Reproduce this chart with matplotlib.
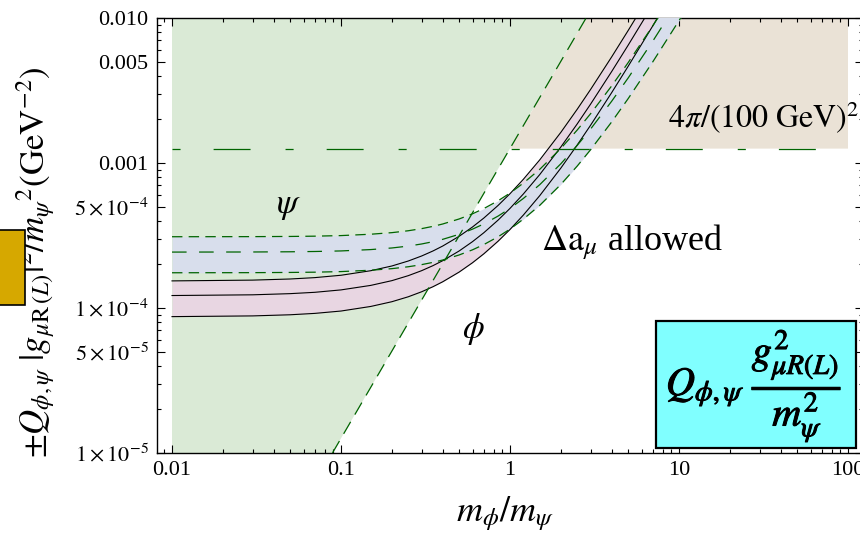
import matplotlib
matplotlib.use("Agg")
import matplotlib.pyplot as plt
import matplotlib.patheffects as pe
from matplotlib.patches import Rectangle
from matplotlib.ticker import FixedLocator, FixedFormatter, LogLocator, NullFormatter

plt.rcParams["font.family"] = ["Liberation Serif", "DejaVu Serif"]
plt.rcParams["mathtext.fontset"] = "stix"
plt.rcParams["lines.scale_dashes"] = False

# mass ratio m_phi / m_psi where the curves are sampled
ratio = [0.01, 0.03, 0.05, 0.07, 0.1, 0.15, 0.2, 0.25, 0.3, 0.35, 0.4, 0.5, 0.6,
         0.7, 0.85, 1.0, 1.2, 1.5, 2.0, 2.5, 3.0, 4.0, 5.0, 7.0, 10.0, 12.0]

# photon on the scalar (phi): solid band
phi_hi = [1.538e-4, 1.557e-4, 1.585e-4, 1.620e-4, 1.682e-4, 1.808e-4, 1.949e-4,
          2.109e-4, 2.284e-4, 2.473e-4, 2.676e-4, 3.122e-4, 3.620e-4, 4.171e-4,
          5.096e-4, 6.14e-4, 7.723e-4, 1.051e-3, 1.628e-3, 2.350e-3, 3.219e-3,
          5.403e-3, 8.191e-3, 1.559e-2, 3.130e-2, 4.479e-2]
phi_mid = [1.219e-4, 1.233e-4, 1.256e-4, 1.283e-4, 1.333e-4, 1.432e-4, 1.544e-4,
           1.671e-4, 1.809e-4, 1.959e-4, 2.120e-4, 2.473e-4, 2.868e-4, 3.304e-4,
           4.037e-4, 4.864e-4, 6.118e-4, 8.325e-4, 1.290e-3, 1.862e-3, 2.550e-3,
           4.281e-3, 6.489e-3, 1.235e-2, 2.480e-2, 3.548e-2]
phi_lo = [8.72e-5, 8.82e-5, 8.98e-5, 9.18e-5, 9.53e-5, 1.025e-4, 1.105e-4,
          1.195e-4, 1.294e-4, 1.402e-4, 1.517e-4, 1.769e-4, 2.052e-4, 2.364e-4,
          2.888e-4, 3.48e-4, 4.377e-4, 5.956e-4, 9.229e-4, 1.332e-3, 1.824e-3,
          3.063e-3, 4.642e-3, 8.836e-3, 1.774e-2, 2.538e-2]

# photon on the fermion (psi): dashed band
psi_hi = [3.101e-4, 3.106e-4, 3.115e-4, 3.129e-4, 3.158e-4, 3.227e-4, 3.309e-4,
          3.410e-4, 3.527e-4, 3.656e-4, 3.797e-4, 4.111e-4, 4.462e-4, 4.850e-4,
          5.490e-4, 6.20e-4, 7.270e-4, 9.045e-4, 1.261e-3, 1.689e-3, 2.189e-3,
          3.407e-3, 4.920e-3, 8.841e-3, 1.699e-2, 2.394e-2]
psi_mid = [2.430e-4, 2.434e-4, 2.442e-4, 2.453e-4, 2.475e-4, 2.529e-4, 2.594e-4,
           2.673e-4, 2.764e-4, 2.866e-4, 2.976e-4, 3.222e-4, 3.498e-4, 3.801e-4,
           4.304e-4, 4.86e-4, 5.698e-4, 7.090e-4, 9.883e-4, 1.324e-3, 1.716e-3,
           2.671e-3, 3.856e-3, 6.930e-3, 1.332e-2, 1.877e-2]
psi_lo = [1.750e-4, 1.753e-4, 1.759e-4, 1.766e-4, 1.783e-4, 1.822e-4, 1.868e-4,
          1.925e-4, 1.991e-4, 2.064e-4, 2.143e-4, 2.321e-4, 2.519e-4, 2.738e-4,
          3.099e-4, 3.50e-4, 4.104e-4, 5.106e-4, 7.117e-4, 9.533e-4, 1.236e-3,
          1.923e-3, 2.777e-3, 4.991e-3, 9.589e-3, 1.351e-2]

# perturbativity limit 4 pi / (100 GeV)^2 and the psi-region edge
pert_limit = 1.2566e-3
edge_x = [0.089, 1.0, 2.82]
edge_y = [1e-5, 1.2566e-3, 1e-2]

x_range = [0.01, 100.0]
y_range = [1e-5, 1e-2]

xtick_vals = [0.01, 0.1, 1, 10, 100]
xtick_labels = ["0.01", "0.1", "1", "10", "100"]
ytick_vals = [1e-5, 5e-5, 1e-4, 5e-4, 1e-3, 5e-3, 1e-2]
ytick_labels = [r"$1\times10^{-5}$", r"$5\times10^{-5}$", r"$1\times10^{-4}$",
                r"$5\times10^{-4}$", "0.001", "0.005", "0.010"]

W, H = 860, 537
green = "#daead6"
beige = "#eae2d6"
pink = "#e8d6e2"
blue = "#d8deec"
dkgreen = "#006400"

fig = plt.figure(figsize=(W / 100, H / 100), dpi=100)
ax = fig.add_axes([157 / W, 1 - 453 / H, (863 - 157) / W, (453 - 18) / H])
ax.set_xscale("log")
ax.set_yscale("log")
ax.set_xlim(10 ** -2.0888, 10 ** 2.0888)
ax.set_ylim(y_range)

# psi-excluded wedge and the perturbativity region
ax.fill([x_range[0], edge_x[0], edge_x[2], x_range[0]],
        [y_range[0], edge_y[0], edge_y[2], y_range[1]],
        color=green, lw=0, zorder=1)
ax.fill([edge_x[1], edge_x[2], x_range[1], x_range[1]],
        [edge_y[1], edge_y[2], y_range[1], pert_limit],
        color=beige, lw=0, zorder=1)

# allowed bands
ax.fill_between(ratio, phi_lo, phi_hi, color=pink, lw=0, zorder=2)
ax.fill_between(ratio, psi_lo, psi_hi, color=blue, lw=0, zorder=3)

for ys in (phi_hi, phi_mid, phi_lo):
    ax.plot(ratio, ys, color="black", lw=0.8, zorder=5)
ax.plot(ratio, psi_hi, color=dkgreen, lw=0.9, dashes=(7.5, 4.5), zorder=6)
ax.plot(ratio, psi_mid, color=dkgreen, lw=0.9, dashes=(10.5, 9), zorder=6)
ax.plot(ratio, psi_lo, color=dkgreen, lw=0.9, dashes=(7.5, 4.5), zorder=6)

ax.plot(x_range, [pert_limit, pert_limit], color=dkgreen, lw=0.9,
        dashes=(5.8, 23.8, 26.6, 25.2), zorder=6)
ax.plot([edge_x[0], edge_x[2]], [edge_y[0], edge_y[2]], color=dkgreen,
        lw=0.9, dashes=(10, 6), zorder=6)

# ticks
ax.xaxis.set_major_locator(FixedLocator(xtick_vals))
ax.xaxis.set_major_formatter(FixedFormatter(xtick_labels))
ax.xaxis.set_minor_locator(LogLocator(base=10, subs=(2, 3, 4, 5, 6, 7, 8, 9), numticks=20))
ax.xaxis.set_minor_formatter(NullFormatter())
ax.yaxis.set_major_locator(FixedLocator(ytick_vals))
ax.yaxis.set_major_formatter(FixedFormatter(ytick_labels))
ax.yaxis.set_minor_locator(LogLocator(base=10, subs=(2, 3, 4, 6, 7, 8, 9), numticks=20))
ax.yaxis.set_minor_formatter(NullFormatter())
ax.tick_params(which="both", direction="in", top=True, right=True,
               labelsize=16, width=0.8, pad=6)
ax.tick_params(which="major", length=6)
ax.tick_params(which="minor", length=3)
for sp in ax.spines.values():
    sp.set_linewidth(1.0)


def fx(px):
    return px / W


def fy(py):
    return 1 - py / H


fig.text(fx(36), fy(262), r"$\pm Q_{\phi,\psi}\ |g_{\mu\mathrm{R}\,(L)}|^2/m_{\psi}{}^{2}(\mathrm{GeV}^{-2})$",
         rotation=90, ha="center", va="center", fontsize=25)
fig.text(fx(505), fy(514), r"$m_\phi/m_\psi$", ha="center", va="center", fontsize=26)

fig.text(fx(289), fy(205), r"$\psi$", ha="center", va="center", fontsize=25)
fig.text(fx(473), fy(329), r"$\phi$", ha="center", va="center", fontsize=25)
fig.text(fx(541), fy(250), r"$\Delta\mathrm{a}_\mu$ allowed", ha="left",
         va="baseline", fontsize=26)
fig.text(fx(668), fy(128), r"$4\pi/(100\ \mathrm{GeV})^2$", ha="left",
         va="baseline", fontsize=23)

# coupling legend box
fig.add_artist(Rectangle((fx(656), fy(448)), 200 / W, 127 / H,
                         transform=fig.transFigure, fc="#80ffff", ec="black",
                         lw=1.6, zorder=10))
fig.text(fx(754), fy(386), r"$Q_{\phi,\psi}\ \dfrac{g_{\mu R(L)}^{2}}{m_{\psi}^{2}}$",
         ha="center", va="center", fontsize=29, zorder=11,
         path_effects=[pe.withStroke(linewidth=0.7, foreground="black")])

# partial box at the left edge
fig.add_artist(Rectangle((fx(-3), fy(305)), 28 / W, 75 / H,
                         transform=fig.transFigure, fc="#d6a800", ec="black",
                         lw=1.2, zorder=10))

fig.savefig("out.png", dpi=100)
